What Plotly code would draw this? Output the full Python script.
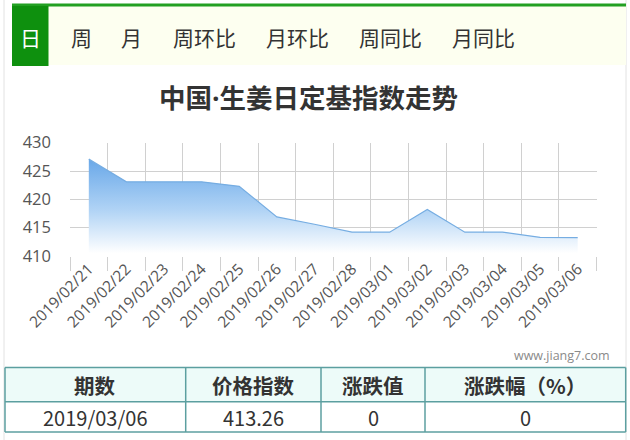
import plotly.graph_objects as go

W, H = 630, 440

dates = ["2019/02/21", "2019/02/22", "2019/02/23", "2019/02/24", "2019/02/25",
         "2019/02/26", "2019/02/27", "2019/02/28", "2019/03/01", "2019/03/02",
         "2019/03/03", "2019/03/04", "2019/03/05", "2019/03/06"]
index_values = [427.1, 423.1, 423.1, 423.1, 422.3, 416.9, 415.6, 414.2, 414.2,
                418.2, 414.2, 414.2, 413.3, 413.26]
y_ticks = [410, 415, 420, 425, 430]

tabs = ["日", "周", "月", "周环比", "月环比", "周同比", "月同比"]
title_text = "中国<span style='font-family:Open Sans'>·</span>生姜日定基指数走势"
table_header = ["期数", "价格指数", "涨跌值", "涨跌幅（%）"]
table_row = ["2019/03/06", "413.26", "0", "0"]
watermark = "www.jiang7.com"


def px(x):
    return x / W


def py(y):
    return 1 - y / H


CJK = "Noto Sans CJK SC"

fig = go.Figure()
fig.add_trace(go.Scatter(
    x=dates, y=index_values, mode="lines",
    line=dict(color="#76ade2", width=1.2),
    fill="tozeroy",
    fillgradient=dict(type="vertical", start=410.5, stop=427.5,
                      colorscale=[[0, "rgba(255,255,255,1)"], [0.45, "#b0d3f5"], [1, "#66a6e8"]]),
    hoverinfo="skip", showlegend=False,
))

shapes = []
annotations = []

# outer side borders
shapes.append(dict(type="line", xref="paper", yref="paper", x0=px(4), x1=px(4), y0=py(0), y1=py(440),
                   line=dict(color="#e2e2e2", width=1), layer="below"))
shapes.append(dict(type="line", xref="paper", yref="paper", x0=px(626), x1=px(626), y0=py(0), y1=py(440),
                   line=dict(color="#e2e2e2", width=1), layer="below"))
# tab bar background
shapes.append(dict(type="rect", xref="paper", yref="paper", x0=px(12), x1=px(626), y0=py(65), y1=py(6),
                   fillcolor="#fdfff0", line=dict(width=0), layer="below"))
# green top line
shapes.append(dict(type="rect", xref="paper", yref="paper", x0=px(12), x1=px(626), y0=py(6.5), y1=py(3.5),
                   fillcolor="#22a022", line=dict(width=0), layer="below"))
# active tab
shapes.append(dict(type="rect", xref="paper", yref="paper", x0=px(12), x1=px(48.5), y0=py(66), y1=py(6),
                   fillcolor="#0e900e", line=dict(width=0), layer="below"))

tab_x = [30, 81.5, 131.5, 204, 297, 390, 483]
for t, xc in zip(tabs, tab_x):
    annotations.append(dict(text=t, xref="paper", yref="paper", x=px(xc), y=py(37), showarrow=False,
                            xanchor="center", yanchor="middle",
                            font=dict(family=CJK, size=21, color="#ffffff" if t == "日" else "#333333")))

# title
annotations.append(dict(text="<b>" + title_text + "</b>", xref="paper", yref="paper", x=px(308), y=py(96.5),
                        showarrow=False, xanchor="center", yanchor="middle",
                        font=dict(family=CJK, size=26.5, color="#333333")))

# watermark
annotations.append(dict(text=watermark, xref="paper", yref="paper", x=px(612), y=py(355), showarrow=False,
                        xanchor="right", yanchor="middle",
                        font=dict(family="Open Sans", size=12.5, color="#8a8a8a")))

# table
col_x = [5, 185.7, 321, 425, 625.7]
row_y = [367.5, 401.7, 432]
shapes.append(dict(type="rect", xref="paper", yref="paper", x0=px(col_x[0]), x1=px(col_x[-1]),
                   y0=py(row_y[1]), y1=py(row_y[0]), fillcolor="#edfbf9", line=dict(width=0), layer="below"))
border = dict(color="#5c9fa0", width=1.5)
for yy in row_y:
    shapes.append(dict(type="line", xref="paper", yref="paper", x0=px(col_x[0]), x1=px(col_x[-1]),
                       y0=py(yy), y1=py(yy), line=border))
for xx in col_x:
    shapes.append(dict(type="line", xref="paper", yref="paper", x0=px(xx), x1=px(xx),
                       y0=py(row_y[0]), y1=py(row_y[-1]), line=border))
for i in range(4):
    xc = (col_x[i] + col_x[i + 1]) / 2
    annotations.append(dict(text="<b>" + table_header[i] + "</b>", xref="paper", yref="paper", x=px(xc),
                            y=py(384.5), showarrow=False, xanchor="center", yanchor="middle",
                            font=dict(family=CJK, size=20.5, color="#333333")))
    annotations.append(dict(text=table_row[i], xref="paper", yref="paper", x=px(xc),
                            y=py(417), showarrow=False, xanchor="center", yanchor="middle",
                            font=dict(family=CJK, size=20, color="#333333")))

fig.update_layout(
    width=W, height=H,
    margin=dict(l=0, r=0, t=0, b=0, autoexpand=False),
    paper_bgcolor="#ffffff", plot_bgcolor="#ffffff",
    shapes=shapes, annotations=annotations,
    xaxis=dict(domain=[px(70), px(596.5)], type="category", range=[-0.5, 13.5], automargin=False,
               tickson="boundaries", ticks="outside", ticklen=14, tickcolor="#d0d0d0", tickwidth=1,
               showgrid=True, gridcolor="#d0d0d0", gridwidth=1,
               tickangle=-45, tickfont=dict(family="Open Sans", size=15.5, color="#555555"),
               showline=False, zeroline=False, fixedrange=True),
    yaxis=dict(domain=[py(256), py(142.7)], range=[410, 430], tickvals=y_ticks, automargin=False,
               showgrid=True, gridcolor="#d0d0d0", gridwidth=1,
               tickfont=dict(family="Open Sans", size=16.5, color="#555555"),
               ticklabelstandoff=18, showline=False, zeroline=False, fixedrange=True),
)

fig.write_html("out.html", config={"displayModeBar": False},
               post_script="document.body.style.margin='0';document.body.style.padding='0';")
